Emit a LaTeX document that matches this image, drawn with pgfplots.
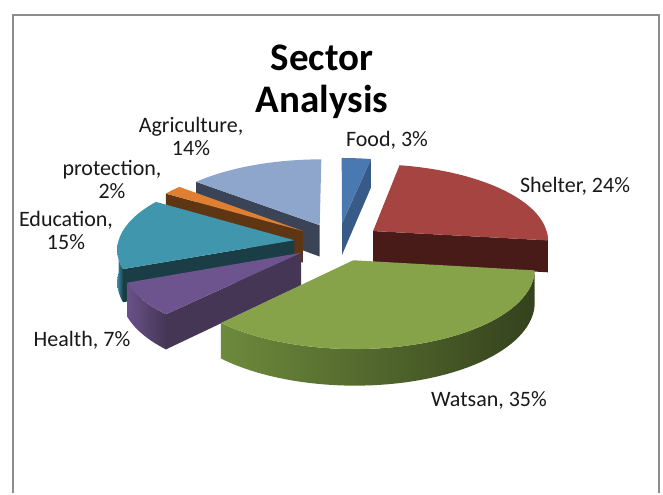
\documentclass[border=0pt]{standalone}
\usepackage{pgfplots}
\pgfplotsset{compat=1.18}
\usepackage{fontspec}
\setmainfont{Carlito}

% ---- data (percent) ----
\def\cum{0}
\newcommand\defslice[2]{%
  \pgfmathsetmacro\tmpS{\cum*3.6}%
  \pgfmathsetmacro\tmpE{(\cum+#2)*3.6}%
  \pgfmathsetmacro\tmpM{(\cum+#2/2)*3.6}%
  \expandafter\let\csname S#1\endcsname\tmpS
  \expandafter\let\csname E#1\endcsname\tmpE
  \expandafter\let\csname M#1\endcsname\tmpM
  \pgfmathsetmacro\cum{\cum+#2}%
}
\defslice{Food}{3}
\defslice{Shelter}{24}
\defslice{Watsan}{35}
\defslice{Health}{7}
\defslice{Education}{15}
\defslice{protection}{2}
\defslice{Agriculture}{14}

\definecolor{foodT}{HTML}{4A78B0}\definecolor{foodS}{HTML}{375A87}
\definecolor{shelT}{HTML}{A54441}\definecolor{shelS}{HTML}{481B19}
\definecolor{watT}{HTML}{86A34A}\definecolor{watL}{HTML}{6E8A3C}\definecolor{watR}{HTML}{34421D}
\definecolor{heaT}{HTML}{6E548E}\definecolor{heaS}{HTML}{453656}\definecolor{heaL}{HTML}{6A5189}
\definecolor{eduT}{HTML}{3F96AD}\definecolor{eduS}{HTML}{1B3D46}\definecolor{eduL}{HTML}{3A8AA0}
\definecolor{proT}{HTML}{DE7F32}\definecolor{proS}{HTML}{5E3614}
\definecolor{agrT}{HTML}{8FA6CC}\definecolor{agrS}{HTML}{3B4456}
\definecolor{frame}{HTML}{8C8C8C}

\tikzset{declare function={
  PU(\Ra,\Ta,\Ma)=0.25*sin(\Ma)+\Ra*sin(\Ta);
  PV(\Ra,\Ta,\Ma)=0.25*cos(\Ma)+\Ra*cos(\Ta);
  PX(\Ra,\Ta,\Ma)=338+176*PU(\Ra,\Ta,\Ma)/(1+0.1015*PV(\Ra,\Ta,\Ma));
  PY(\Ra,\Ta,\Ma,\Ha)=242+(-75.8*PV(\Ra,\Ta,\Ma)+\Ha)/(1+0.1015*PV(\Ra,\Ta,\Ma));
}}

% top face of slice
\newcommand\topface[2]{%
  \addplot[fill=#2, draw=none, samples at={-1,0,1,...,51}]
   ({PX((x>-0.5)*(x<50.5), \csname S#1\endcsname+(\csname E#1\endcsname-\csname S#1\endcsname)*min(max(x,0),50)/50, \csname M#1\endcsname)},
    {PY((x>-0.5)*(x<50.5), \csname S#1\endcsname+(\csname E#1\endcsname-\csname S#1\endcsname)*min(max(x,0),50)/50, \csname M#1\endcsname, 0)});
}
% flat cut face at the start (S) or end (E) angle
\newcommand\cutface[3]{%
  \addplot[fill=#3, draw=none, samples at={0,1,2,3}]
   ({PX((x>0.5)*(x<2.5), \csname #2#1\endcsname, \csname M#1\endcsname)},
    {PY((x>0.5)*(x<2.5), \csname #2#1\endcsname, \csname M#1\endcsname, (x>1.5)*32)});
}
% curved outer side between angles #2 and #3
\newcommand\curvedside[4]{%
  \addplot[#4, draw=none, samples at={0,1,...,101}]
   ({PX(1, #2+(#3-#2)*ifthenelse(x<50.5,x/50,(101-x)/50), \csname M#1\endcsname)},
    {PY(1, #2+(#3-#2)*ifthenelse(x<50.5,x/50,(101-x)/50), \csname M#1\endcsname, (x>50.5)*32)});
}

\begin{document}
\begin{tikzpicture}
\begin{axis}[width=331.5pt, height=246.5pt, scale only axis,
  xmin=0, xmax=663, ymin=0, ymax=493, y dir=reverse,
  hide axis, clip=false]
\fill[white] (axis cs:0,0) rectangle (axis cs:663,493);
\draw[frame, line width=1pt] (axis cs:13,493) -- (axis cs:13,15) -- (axis cs:659,15) -- (axis cs:659,493);

% Agriculture
\cutface{Agriculture}{S}{agrS}
\topface{Agriculture}{agrT}
% Food
\cutface{Food}{E}{foodS}
\topface{Food}{foodT}
% protection
\cutface{protection}{S}{proS}
\topface{protection}{proT}
% Education
\cutface{Education}{S}{eduS}
\curvedside{Education}{\SEducation}{270}{left color=eduL, right color=eduS}
\topface{Education}{eduT}
% Shelter
\cutface{Shelter}{E}{shelS}
\curvedside{Shelter}{90}{\EShelter}{fill=shelS}
\topface{Shelter}{shelT}
% Health
\cutface{Health}{S}{heaS}
\curvedside{Health}{\SHealth}{\EHealth}{left color=heaL, right color=heaS}
\topface{Health}{heaT}
% Watsan
\curvedside{Watsan}{\SWatsan}{\EWatsan}{left color=watL, right color=watR}
\topface{Watsan}{watT}

% title
\node[align=center, font=\fontsize{19.5}{21}\selectfont\bfseries] at (axis cs:322,82) {Sector\\Analysis};
% labels
\begin{scope}[every node/.style={align=center, font=\fontsize{11}{11.5}\selectfont, text=black!90}]
\node at (axis cs:387,140) {Food, 3\%};
\node at (axis cs:575,186) {Shelter, 24\%};
\node at (axis cs:489,400) {Watsan, 35\%};
\node at (axis cs:82,340) {Health, 7\%};
\node at (axis cs:66,230) {Education,\\15\%};
\node at (axis cs:112,179) {protection,\\2\%};
\node at (axis cs:191,136) {Agriculture,\\14\%};
\end{scope}
\end{axis}
\end{tikzpicture}
\end{document}
